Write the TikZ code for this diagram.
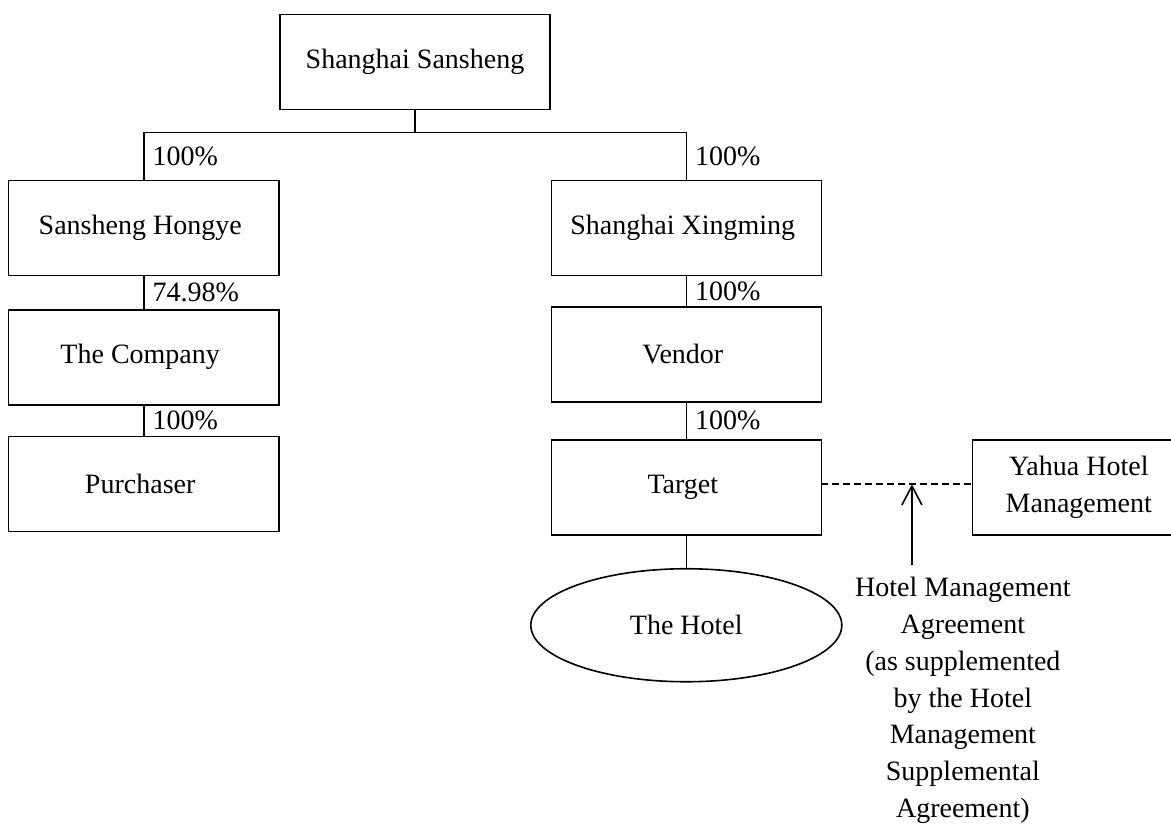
\documentclass[tikz,border=0pt]{standalone}
\usepackage{fontspec}
\setmainfont{Liberation Serif}
\usepackage{tikz}
\usetikzlibrary{matrix,arrows.meta,positioning,shapes.geometric}
\tikzset{
	firm/.style={draw, line width=0.8pt, minimum width=135pt, minimum height=47.5pt, inner sep=1mm, outer sep=0pt, align=center, fill=white},
	asset/.style={draw, ellipse, line width=0.8pt, minimum width=155.5pt, minimum height=56.5pt, inner sep=0pt, outer sep=0pt},
	pct/.style={anchor=west, inner xsep=4pt, inner ysep=0pt},
	note/.style={align=center, inner sep=6pt, outer sep=0pt, font=\fontsize{14}{18.4}\selectfont},
	link/.style={line width=0.8pt}
}
\newcommand{\ownfirm}[3]{
	\draw[link] (#1.south) -- node[pct] {#3} (#2.north);
}

\begin{document}
\begin{tikzpicture}[ampersand replacement=\&, x=0.5pt, y=-0.5pt, font=\fontsize{14}{18.7}\selectfont]
			\useasboundingbox (0,0) rectangle (1171,824);
			\node[firm] (sansheng) at (415,62) {Shanghai Sansheng};
			
			\matrix (holding)[matrix of nodes,
					below=35pt of sansheng,
					column sep=135.5pt, row sep=15pt, inner sep=0pt, outer sep=0pt, nodes=firm]{
				Sansheng Hongye \& %holding-1-1
				Shanghai Xingming \\ %holding-1-2
				The Company \& %holding-2-1
				Vendor \\ %holding-2-2
				Purchaser \& %holding-3-1
				Target \\ %holding-3-2
			};
			
			% Top level shareholding is drawn.
			\coordinate[below=11.5pt of sansheng] (fork);
			\draw[link] (sansheng.south) -- (fork);
			\draw[link] (fork) -| node[pct, pos=0.75] {100\%} (holding-1-1.north);
			\draw[link] (fork) -| node[pct, pos=0.75] {100\%} (holding-1-2.north);
			
			\ownfirm{holding-1-1}{holding-2-1}{74.98\%}
			\ownfirm{holding-2-1}{holding-3-1}{100\%}
			\ownfirm{holding-1-2}{holding-2-2}{100\%}
			\ownfirm{holding-2-2}{holding-3-2}{100\%}
			
			% Hotel and management agreement are drawn.
			\node[asset, below=17pt of holding-3-2] (hotel) {The Hotel};
			\draw[link] (holding-3-2.south) -- (hotel.north);
			
			\node[firm, right=75.5pt of holding-3-2, minimum width=106.5pt] (yahua) {Yahua Hotel\\Management};
			\draw[link, dash pattern=on 3.3pt off 2.2pt] ([yshift=1.5pt]holding-3-2.east) -- coordinate[pos=0.6] (contract) ([yshift=1.5pt]yahua.west);
			
			\node[note, below=40.5pt of contract, xshift=25.5pt] (agreement) {Hotel Management\\Agreement\\(as supplemented\\by the Hotel\\Management\\Supplemental\\Agreement)};
			\draw[link, -{Straight Barb[length=9.5pt, width=10pt]}] (agreement.north -| contract) -- (contract);
			
		\end{tikzpicture}
\end{document}
